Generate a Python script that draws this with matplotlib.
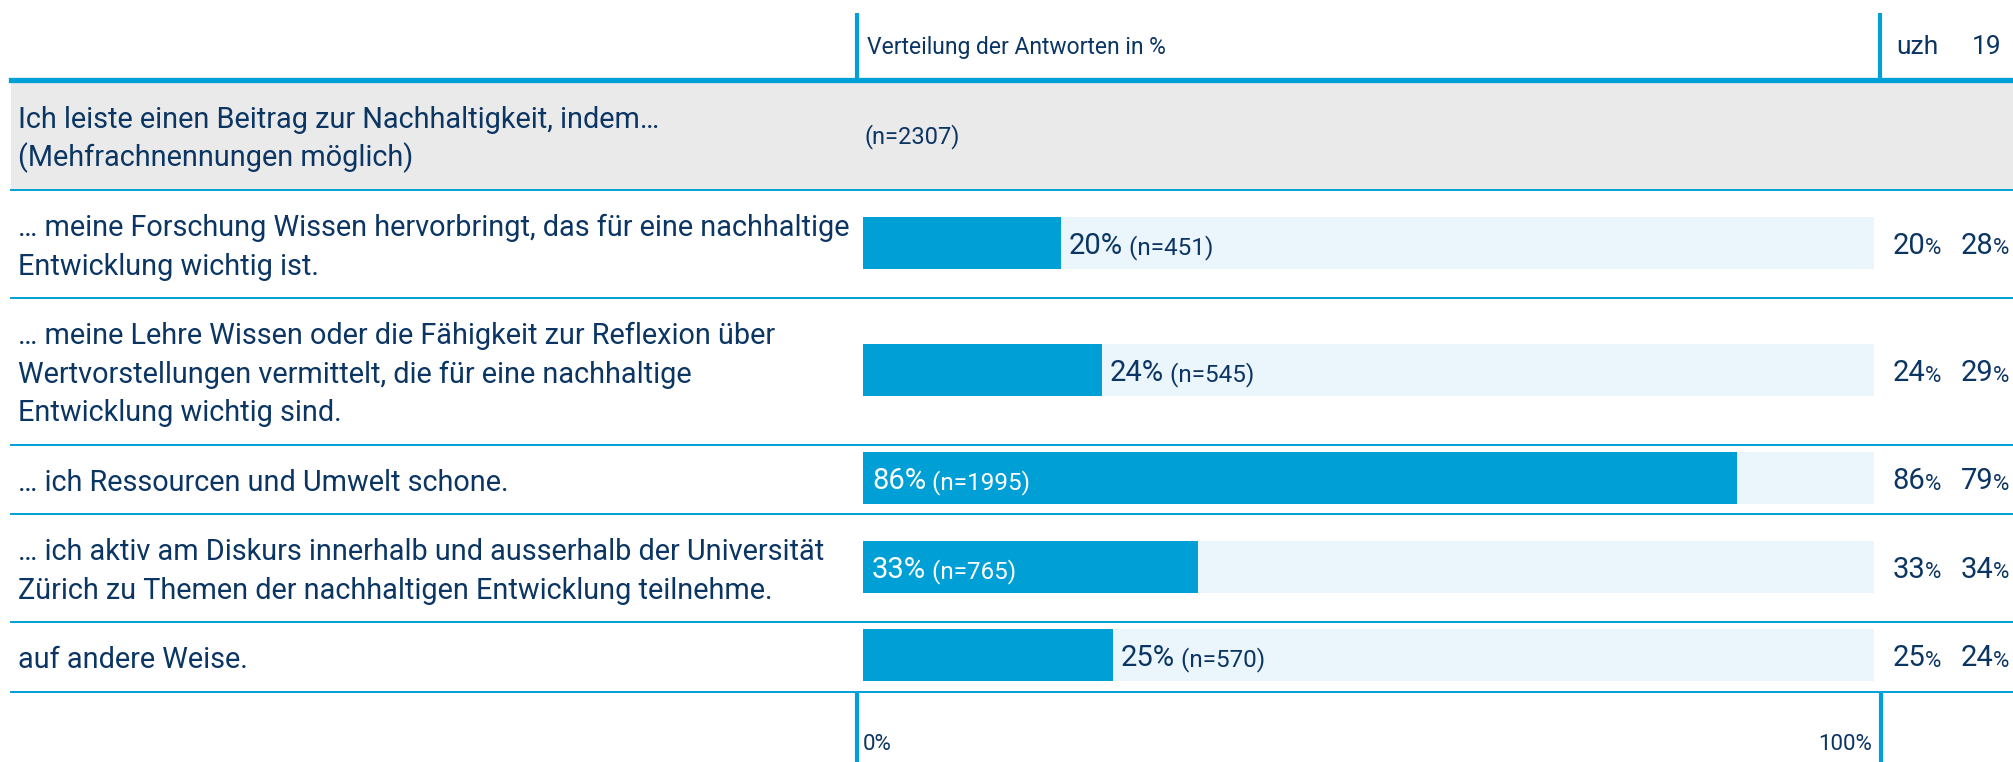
import matplotlib
matplotlib.use("Agg")
import matplotlib.pyplot as plt

plt.rcParams['font.family'] = ['Roboto', 'DejaVu Sans']

# data
question = "Ich leiste einen Beitrag zur Nachhaltigkeit, indem…\n(Mehfrachnennungen möglich)"
total_n = 2307
labels = [
    "… meine Forschung Wissen hervorbringt, das für eine nachhaltige\nEntwicklung wichtig ist.",
    "… meine Lehre Wissen oder die Fähigkeit zur Reflexion über\nWertvorstellungen vermittelt, die für eine nachhaltige\nEntwicklung wichtig sind.",
    "… ich Ressourcen und Umwelt schone.",
    "… ich aktiv am Diskurs innerhalb und ausserhalb der Universität\nZürich zu Themen der nachhaltigen Entwicklung teilnehme.",
    "auf andere Weise.",
]
counts = [451, 545, 1995, 765, 570]
uzh = [20, 24, 86, 33, 25]
uzh19 = [28, 29, 79, 34, 24]
col_heads = ["uzh", "19"]

W, H = 2013, 762
navy = "#0b3563"
blue = "#009fd6"
light = "#eaf5fc"
grey = "#eaeaea"

fig = plt.figure(figsize=(W / 100, H / 100), dpi=100)
ax = fig.add_axes([0, 0, 1, 1])
ax.set_xlim(0, W)
ax.set_ylim(H, 0)
ax.axis("off")

x0, x1 = 863, 1874
bx = fig.add_axes([x0 / W, 0, (x1 - x0) / W, 1])
bx.set_xlim(0, 100)
bx.set_ylim(H, 0)
bx.axis("off")
bx.set_facecolor("none")

line_h = 38.5

def put_lines(text, x, yc, size):
    rows = text.split("\n")
    for i, r in enumerate(rows):
        y = yc + (i - (len(rows) - 1) / 2) * line_h + 11.5
        ax.text(x, y, r, fontsize=size, color=navy, va="baseline", ha="left")

# header
ax.plot([857, 857], [13, 79], color=blue, lw=3, solid_capstyle="butt")
ax.plot([1880, 1880], [13, 79], color=blue, lw=3, solid_capstyle="butt")
ax.text(867, 54, "Verteilung der Antworten in %", fontsize=16.5, color=navy, va="baseline")
ax.text(1917, 54, col_heads[0], fontsize=19, color=navy, va="baseline", ha="center")
ax.text(1987, 54, col_heads[1], fontsize=19, color=navy, va="baseline", ha="center")
ax.axhline(79.5, xmin=11 / W, xmax=1, color=blue, lw=3.8)

# question band
ax.axhspan(82, 189, xmin=11 / W, xmax=1, color=grey, lw=0)
put_lines(question, 18, 135.5, 20.8)
ax.text(864, 143, f"(n={total_n})", fontsize=17, color=navy, va="baseline")
ax.axhline(190, xmin=11 / W, xmax=1, color=blue, lw=1.4)

# rows
top = 190
centers = []
for lab in labels:
    nl = len(lab.split("\n"))
    h = 31 + line_h * nl
    c = top + h / 2
    centers.append(c - 1.5)
    put_lines(lab, 18, c, 20.8)
    top += h
    ax.axhline(top, xmin=11 / W, xmax=1, color=blue, lw=1.4)

pcts = [n / total_n * 100 for n in counts]
bx.barh(centers, [100] * len(pcts), height=52, color=light, lw=0)
bx.barh(centers, pcts, height=52, color=blue, lw=0)

for c, p, n, a, b in zip(centers, pcts, counts, uzh, uzh19):
    inside = p >= 30
    tx = 0.9 if inside else p + 0.8
    col = "white" if inside else navy
    t1 = bx.text(tx, c + 11, f"{round(p)}%", fontsize=21, color=col, va="baseline")
    bx.annotate(f" (n={n})", xy=(1, 0), xycoords=t1, fontsize=17.5, color=col,
                va="bottom", ha="left")
    for xr, v in ((1925, a), (1993, b)):
        t = ax.text(xr, c + 11, f"{v}", fontsize=21, color=navy, va="baseline", ha="right")
        ax.annotate("%", xy=(1, 0), xycoords=t, fontsize=16, color=navy,
                    va="bottom", ha="left")

# footer
ax.plot([857, 857], [top, H], color=blue, lw=3, solid_capstyle="butt")
ax.plot([1881, 1881], [top, H], color=blue, lw=3, solid_capstyle="butt")
bx.text(0, 750, "0%", fontsize=16, color=navy, va="baseline", ha="left")
bx.text(99.8, 750, "100%", fontsize=16, color=navy, va="baseline", ha="right")

fig.savefig("out.png", dpi=100)
